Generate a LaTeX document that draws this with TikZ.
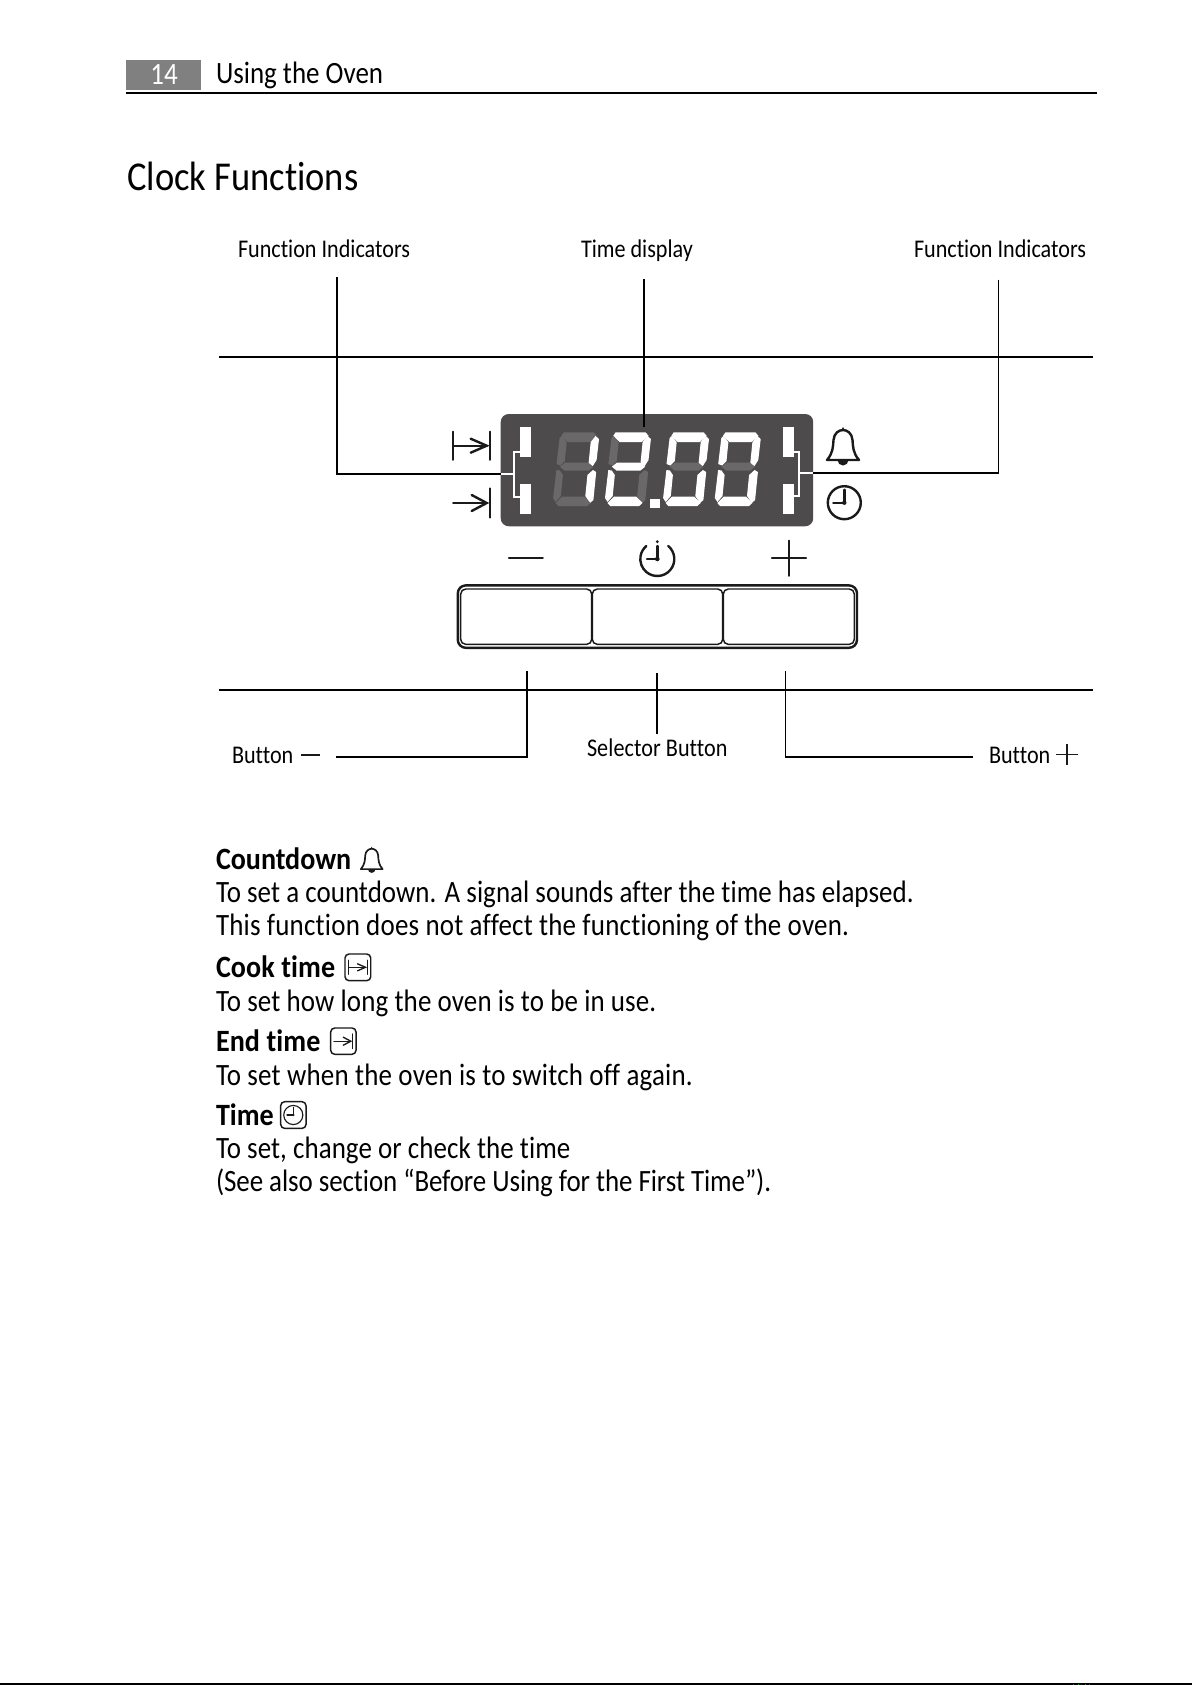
\documentclass[tikz,border=0pt]{standalone}
\usepackage{fontspec}
\setmainfont{Carlito}
\newfontfamily\bodyf[FakeStretch=0.87,Ligatures=NoCommon]{Carlito}
\newfontfamily\titlef[FakeStretch=0.89,Ligatures=NoCommon]{Carlito}
\newfontfamily\boldf[FakeStretch=0.905,Ligatures=NoCommon]{Carlito Bold}
\newcommand{\lsp}[1]{\addfontfeature{LetterSpace=#1}}
\definecolor{panel}{HTML}{4D4B4C}
\definecolor{segoff}{HTML}{6A6869}
\definecolor{hdr}{HTML}{808080}
\definecolor{ink}{HTML}{1A1A1A}
\newcommand{\digitseven}[8]{%
 \begin{scope}[shift={(#1,506)},xslant=0.1]
  \fill[#2] (4,-73.7) -- (34,-73.7) -- (37.5,-70) -- (31,-64) -- (9,-64) -- (2,-70) -- cycle;
  \fill[#3] (36.3,-70) -- (40,-67) -- (39.7,-46) -- (36.4,-39.8) -- (32,-42.5) -- (32,-64) -- cycle;
  \fill[#4] (37,-36) -- (40.5,-34) -- (40.5,-6) -- (37.4,-3) -- (32,-10) -- (32,-31) -- cycle;
  \fill[#5] (6,0) -- (35,0) -- (38,-3) -- (31,-9.5) -- (9,-9.5) -- (3,-3) -- cycle;
  \fill[#6] (0,-8) -- (3,-4) -- (7.5,-10) -- (7.5,-31) -- (4,-35.5) -- (0.5,-36) -- cycle;
  \fill[#7] (0,-42) -- (4,-40.5) -- (8,-45) -- (8,-64) -- (2.5,-70) -- (0.5,-68) -- cycle;
  \fill[#8] (3.7,-39.3) -- (8.3,-43.3) -- (31.7,-43.3) -- (37,-39.3) -- (32.5,-35.3) -- (9,-35.3) -- cycle;
 \end{scope}}
\newcommand{\bellicon}[4]{%
 \begin{scope}[shift={(#1,#2)},scale=#3]
  \draw[ink,line width=#4,line join=round,line cap=round] (-16,33) .. controls (-10,26) and (-10,20) .. (-9.5,13) .. controls (-9,6) and (-4,3) .. (0,3) .. controls (4,3) and (9,6) .. (9.5,13) .. controls (10,20) and (10,26) .. (16,33) -- cycle;
  \fill[ink] (0,0) -- (1.8,3.5) -- (-1.8,3.5) -- cycle;
  \fill[ink] (-5.5,33) arc[start angle=180,end angle=0,radius=5.5] -- cycle;
 \end{scope}}
\newcommand{\clockicon}[4]{%
 \begin{scope}[shift={(#1,#2)},scale=#3]
  \draw[ink,line width=#4] (0,0) circle[radius=16.5];
  \draw[ink,line width=#4,line cap=round] (0,-13) -- (0,0) -- (-11,0);
  \fill[ink] (0,0) circle[radius=2.2];
 \end{scope}}
\newcommand{\cooksym}[4]{%
 \begin{scope}[shift={(#1,#2)},scale=#3]
  \draw[ink,line width=#4,line cap=round] (-18.5,-14) -- (-18.5,14) (18.5,-14) -- (18.5,14) (-18.5,0) -- (15,0);
  \draw[ink,line width=#4,line cap=round,line join=miter] (-1,-7) -- (15,0) -- (-1,7);
 \end{scope}}
\newcommand{\arrowendsym}[4]{%
 \begin{scope}[shift={(#1,#2)},scale=#3]
  \draw[ink,line width=#4,line cap=round] (18.5,-14.5) -- (18.5,14.5) (-18.5,0) -- (15,0);
  \draw[ink,line width=#4,line cap=round,line join=miter] (0,-8) -- (15,0) -- (0,8);
 \end{scope}}
\tikzset{
 bodytxt/.style={anchor=base west,inner sep=0pt,outer sep=0pt,text=black,font=\bodyf\fontsize{23.25pt}{28pt}\selectfont},
 headtxt/.style={anchor=base west,inner sep=0pt,outer sep=0pt,text=black,font=\boldf\fontsize{23.25pt}{28pt}\selectfont},
 labeltxt/.style={anchor=base west,inner sep=0pt,outer sep=0pt,text=black,font=\bodyf\fontsize{19.1pt}{23pt}\selectfont},
 leader/.style={draw=black,line width=1.05pt},
 rulefine/.style={draw=black,line width=1.5pt},
 whitewire/.style={draw=white,line width=0.85pt},
 iconbox/.style={draw=ink,line width=1.1pt,rounded corners=3pt,outer sep=0pt},
 btnbox/.style={draw=ink,line width=1.1pt,rounded corners=3.75pt,minimum height=41.5pt,inner sep=0pt,outer sep=0pt,anchor=north west}
}
\begin{document}
\begin{tikzpicture}[x=0.75pt,y=-0.75pt]
\useasboundingbox[fill=white] (0,0) rectangle (1192,1685);
% header
\fill[hdr] (126,60) rectangle (201,90);
\node[anchor=base,inner sep=0pt,text=white,font=\bodyf\fontsize{23.25pt}{28pt}\selectfont] (pagenum) at (164,84) {14};
\node[bodytxt] (chap) at (216,83) {Using the Oven};
\draw[black,line width=1.65pt] (126,92.8) -- (1097,92.8);
\node[anchor=base west,inner sep=0pt,font=\titlef\fontsize{30.75pt}{36pt}\selectfont] (title) at (127,190) {Clock Functions};
% labels
\node[labeltxt] (fileft) at (238,257) {Function Indicators};
\node[labeltxt] (timelab) at (581,257) {Time display};
\node[labeltxt] (firight) at (914,257) {Function Indicators};
% horizontal bars
\draw[rulefine] (219,357) -- (1093,357);
\draw[rulefine] (219,690) -- (1093,690);
% display
\node[fill=panel,rounded corners=6pt,minimum width=234.4pt,minimum height=84.2pt,inner sep=0pt,outer sep=0pt,anchor=north west] (display) at (500.7,414) {};
\node[fill=white,inner sep=0pt,outer sep=0pt,minimum width=8pt,minimum height=22.5pt,anchor=north west] (indla) at (520,426.7) {};
\node[fill=white,inner sep=0pt,outer sep=0pt,minimum width=8pt,minimum height=22.9pt,anchor=north west] (indlb) at (520,483.5) {};
\node[fill=white,inner sep=0pt,outer sep=0pt,minimum width=8.25pt,minimum height=22.5pt,anchor=north west] (indra) at (783,426.7) {};
\node[fill=white,inner sep=0pt,outer sep=0pt,minimum width=8.25pt,minimum height=22.9pt,anchor=north west] (indrb) at (783,483.5) {};
\digitseven{552.3}{segoff}{white}{white}{segoff}{segoff}{segoff}{segoff}
\digitseven{604.2}{white}{white}{segoff}{white}{white}{segoff}{white}
\digitseven{662.3}{white}{white}{white}{white}{white}{white}{segoff}
\digitseven{714}{white}{white}{white}{white}{white}{white}{segoff}
\node[fill=white,inner sep=0pt,outer sep=0pt,minimum width=7.5pt,minimum height=6.5pt,anchor=north west] (dot) at (650,499) {};
% white bracket wires
\coordinate (lbr) at (514,474);
\coordinate (rbr) at (799,473);
\draw[whitewire] (520,452) -- (514,452) -- (514,497) -- (520,497);
\draw[white,line width=1.2pt] (display.west|-lbr) -- (lbr);
\draw[whitewire] (794,452) -- (799,452) -- (799,496) -- (794,496);
\draw[whitewire] (rbr) -- (display.east|-rbr);
% leaders
\coordinate (ltop) at (337,277);
\coordinate (mtop) at (644,279);
\coordinate (rtop) at (998.5,279.5);
\draw[leader] (ltop) |- (display.west|-lbr);
\draw[leader,line width=1.35pt] (mtop) -- (indla.north-|mtop);
\draw[leader] (rtop) |- (display.east|-rbr);
% left icons
\cooksym{471.7}{445.7}{1}{1.8pt}
\arrowendsym{471.7}{503}{1}{1.8pt}
\bellicon{843}{427}{1}{1.8pt}
\clockicon{844.3}{502.7}{1}{1.8pt}
% button symbols
\coordinate (mina) at (509,557.7);
\coordinate (minb) at (542.7,557.7);
\draw[ink,line width=1.8pt,line cap=round] (mina) -- (minb);
\draw[ink,line width=1.8pt,line cap=round] (772,557.7) -- (806,557.7) (789,540.7) -- (789,575.7);
\draw[ink,line width=1.8pt,line cap=round] (657.3,559) ++(-50:17) arc[start angle=-50,end angle=230,radius=17];
\draw[ink,line width=1.8pt,line cap=round] (657.3,546) -- (657.3,559) -- (647,559);
\fill[ink] (657.3,541.7) circle[radius=1.6];
\fill[ink] (657.3,559) circle[radius=2.3];
% buttons
\node[draw=ink,line width=1.8pt,rounded corners=6pt,minimum width=299.4pt,minimum height=46.8pt,inner sep=0pt,outer sep=0pt,anchor=north west,fill=white] (panelbtn) at (457.8,585.4) {};
\node[btnbox,minimum width=98.25pt] (btnminus) at (460.7,589) {};
\node[btnbox,minimum width=97.8pt] (btnsel) at (592.3,589) {};
\node[btnbox,minimum width=98.25pt] (btnplus) at (723.3,589) {};
% lower leaders
\coordinate (bm) at (527,671);
\coordinate (bmend) at (336.4,757);
\coordinate (bs) at (656.7,673);
\coordinate (bsend) at (656.7,734);
\coordinate (bp) at (785.3,671);
\coordinate (bpend) at (972.7,757);
\draw[leader] (bm) |- (bmend);
\draw[leader,line width=1.35pt] (bs) -- (bsend);
\draw[leader] (bp) |- (bpend);
\node[labeltxt] (bml) at (232,763) {Button};
\node[labeltxt] (bsl) at (587,756) {\lsp{0.3}Selector Button};
\node[labeltxt] (bpl) at (989,763) {Button};
\draw[ink,line width=1.5pt] (301,754.5) -- (320,754.5);
\draw[ink,line width=1.3pt] (1056,754.5) -- (1078,754.5) (1067,744) -- (1067,765);
% text
\node[headtxt] (t1) at (216,869) {Countdown};
\bellicon{371.7}{846.7}{0.68}{1.25pt}
\node[bodytxt] (t2) at (216,902.7) {\lsp{0.16}To set a countdown. A signal sounds after the time has elapsed.};
\node[bodytxt] (t3) at (216,935.4) {\lsp{0.67}This function does not affect the functioning of the oven.};
\node[headtxt] (t4) at (216,977.7) {\lsp{0.4}Cook time};
\node[iconbox,minimum width=19.3pt,minimum height=20pt,inner sep=0pt,anchor=north west] (cookbox) at (345,954) {};
\cooksym{358}{967.3}{0.5}{1pt}
\node[bodytxt] (t5) at (216,1011) {\lsp{0.42}To set how long the oven is to be in use.};
\node[headtxt] (t6) at (216,1051.7) {\lsp{0.4}End time};
\node[iconbox,minimum width=19pt,minimum height=19.7pt,inner sep=0pt,anchor=north west] (endbox) at (330.7,1028) {};
\arrowendsym{343.3}{1041.2}{0.5}{1pt}
\node[bodytxt] (t7) at (216,1085) {\lsp{0.7}To set when the oven is to switch off again.};
\node[headtxt] (t8) at (216,1125) {Time};
\node[iconbox,minimum width=19pt,minimum height=20pt,inner sep=0pt,anchor=north west] (timebox) at (280.7,1101.7) {};
\clockicon{293.3}{1115}{0.58}{0.85pt}
\node[bodytxt] (t9) at (216,1158.5) {\lsp{0.2}To set, change or check the time};
\node[bodytxt] (t10) at (216,1191.5) {\lsp{-0.26}(See also section “Before Using for the First Time”).};
% page edge
\fill[black] (0,1683.3) rectangle (1192,1685);
\fill[red] (1073,1684) rectangle (1074,1685);
\fill[green!70!black] (1077.5,1684) rectangle (1078.5,1685);
\fill[blue] (1081,1684) rectangle (1082,1685);
\fill[green!70!black] (1085,1684) rectangle (1086,1685);
\fill[red] (1089,1684) rectangle (1090,1685);
\end{tikzpicture}
\end{document}
